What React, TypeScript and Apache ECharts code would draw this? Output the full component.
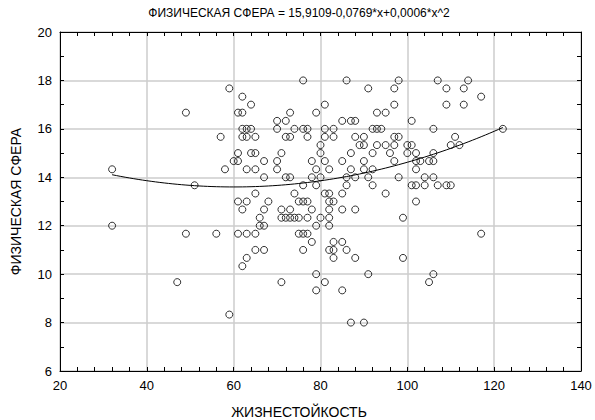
import React, { useEffect, useRef } from "react";
import * as echarts from "echarts";

// Observations: [ЖИЗНЕСТОЙКОСТЬ, ФИЗИЧЕСКАЯ СФЕРА]
const leftPoints: number[][] = [
  [32, 14.33], [32, 12], [47, 9.67], [49, 16.67], [49, 11.67], [51, 13.67],
  [56, 11.67], [57, 15.67], [59, 17.67], [59, 8.33],
];

const upperPoints: number[][] = [
  [76, 18], [86, 18], [98, 18], [107, 18], [114, 18],
  [91, 17.67], [97, 17.67], [109, 17.67], [113, 17.67],
  [62, 17.33], [117, 17.33],
  [64, 17], [81, 17], [97, 17], [109, 17], [113, 17],
  [61, 16.67], [62, 16.67], [73, 16.67], [79, 16.67], [93, 16.67], [95, 16.67],
  [70, 16.33], [72, 16.33], [85, 16.33], [87, 16.33], [88, 16.33], [101, 16.33],
  [62, 16], [63, 16], [64, 16], [70, 16], [74, 16], [76, 16], [77, 16], [81, 16],
  [83, 16], [92, 16], [93, 16], [94, 16], [106, 16], [122, 16],
  [62, 15.67], [63, 15.67], [65, 15.67], [72, 15.67], [73, 15.67], [77, 15.67],
  [81, 15.67], [83, 15.67], [88, 15.67], [90, 15.67], [97, 15.67], [98, 15.67],
  [111, 15.67],
  [80, 15.33], [89, 15.33], [90, 15.33], [93, 15.33], [95, 15.33], [97, 15.33],
  [100, 15.33], [101, 15.33], [110, 15.33], [112, 15.33],
];

const middlePoints: number[][] = [
  [61, 15], [64, 15], [65, 15], [71, 15], [80, 15], [87, 15], [92, 15], [96, 15],
  [100, 15], [102, 15], [106, 15],
  [60, 14.67], [61, 14.67], [67, 14.67], [70, 14.67], [78, 14.67], [81, 14.67],
  [85, 14.67], [90, 14.67], [97, 14.67], [102, 14.67], [103, 14.67], [105, 14.67],
  [106, 14.67],
  [58, 14.33], [63, 14.33], [65, 14.33], [70, 14.33], [79, 14.33], [82, 14.33],
  [87, 14.33], [90, 14.33], [92, 14.33], [102, 14.33],
  [67, 14], [72, 14], [73, 14], [78, 14], [80, 14], [86, 14], [88, 14], [91, 14],
  [98, 14], [104, 14], [106, 14],
  [76, 13.67], [79, 13.67], [86, 13.67], [92, 13.67], [101, 13.67], [102, 13.67],
  [104, 13.67], [107, 13.67], [109, 13.67], [110, 13.67],
  [65, 13.33], [74, 13.33], [81, 13.33], [82, 13.33], [85, 13.33], [95, 13.33],
  [61, 13], [63, 13], [68, 13], [75, 13], [76, 13], [77, 13], [82, 13], [83, 13],
  [102, 13],
];

const lowerPoints: number[][] = [
  [62, 12.67], [67, 12.67], [71, 12.67], [73, 12.67], [78, 12.67], [82, 12.67],
  [85, 12.67], [88, 12.67],
  [66, 12.33], [71, 12.33], [72, 12.33], [73, 12.33], [74, 12.33], [75, 12.33],
  [77, 12.33], [80, 12.33], [82, 12.33], [99, 12.33],
  [66, 12], [67, 12], [79, 12], [82, 12],
  [61, 11.67], [63, 11.67], [65, 11.67], [75, 11.67], [76, 11.67], [77, 11.67],
  [117, 11.67],
  [78, 11.33], [83, 11.33], [85, 11.33],
  [65, 11], [67, 11], [76, 11], [82, 11], [83, 11], [86, 11],
  [63, 10.67], [83, 10.67], [88, 10.67], [99, 10.67],
  [62, 10.33],
  [79, 10], [91, 10], [106, 10],
  [71, 9.67], [81, 9.67], [105, 9.67],
  [79, 9.33], [85, 9.33],
  [87, 8], [90, 8],
];

// Quadratic fit coefficients
const B0 = 15.9109;
const B1 = -0.0769;
const B2 = 0.00064;

const X_TICKS = [20, 40, 60, 80, 100, 120, 140];
const Y_TICKS = [6, 8, 10, 12, 14, 16, 18, 20];

const X_NAME = "ЖИЗНЕСТОЙКОСТЬ";
const Y_NAME = "ФИЗИЧЕСКАЯ СФЕРА";

const fmt = (v: number) => v.toFixed(4).replace(".", ",");

export default function App() {
  const ref = useRef<HTMLDivElement>(null);

  useEffect(() => {
    document.body.style.margin = "0";
    if (!ref.current) return;
    const chart = echarts.init(ref.current, undefined, { renderer: "svg" });

    const points = [...leftPoints, ...upperPoints, ...middlePoints, ...lowerPoints];
    const xs = points.map((p) => p[0]);
    const xMin = Math.min(...xs);
    const xMax = Math.max(...xs);
    const fit: number[][] = [];
    for (let x = xMin; x <= xMax; x += 1) {
      fit.push([x, B0 + B1 * x + B2 * x * x]);
    }

    const title = `${Y_NAME} = ${fmt(B0)}-${fmt(Math.abs(B1))}*x+${fmt(B2)}*x^2`;
    const font = "'Liberation Sans', Arial, sans-serif";
    const axisCommon = {
      axisLine: { show: true, lineStyle: { color: "#000", width: 1 } },
      axisTick: { show: true, inside: true, length: 4, lineStyle: { color: "#000" } },
      minorTick: { show: true, length: 4, lineStyle: { color: "#000" } },
    };

    chart.setOption({
      animation: false,
      textStyle: { fontFamily: font },
      grid: { left: 60, right: 14, top: 32, bottom: 49, containLabel: false },
      graphic: [
        {
          type: "text",
          x: 299,
          y: 13,
          style: {
            text: title,
            fill: "#000",
            font: `12px ${font}`,
            textAlign: "center",
            textVerticalAlign: "middle",
          },
        },
        {
          type: "text",
          x: 299,
          y: 412,
          style: {
            text: X_NAME,
            fill: "#000",
            font: `14px ${font}`,
            textAlign: "center",
            textVerticalAlign: "middle",
          },
        },
      ],
      xAxis: [
        {
          type: "value",
          min: X_TICKS[0],
          max: X_TICKS[X_TICKS.length - 1],
          interval: 20,
          position: "bottom",
          ...axisCommon,
          minorTick: { ...axisCommon.minorTick, splitNumber: 5 },
          axisLabel: { color: "#000", fontSize: 13, margin: 8, fontFamily: font },
          splitLine: { show: true, lineStyle: { color: "#cccccc", width: 1.5 } },
        },
        {
          type: "value",
          min: X_TICKS[0],
          max: X_TICKS[X_TICKS.length - 1],
          interval: 20,
          position: "top",
          ...axisCommon,
          minorTick: { ...axisCommon.minorTick, splitNumber: 5 },
          axisLabel: { show: false },
          splitLine: { show: false },
        },
      ],
      yAxis: [
        {
          type: "value",
          min: Y_TICKS[0],
          max: Y_TICKS[Y_TICKS.length - 1],
          interval: 2,
          position: "left",
          name: Y_NAME,
          nameLocation: "middle",
          nameGap: 37,
          nameTextStyle: { fontSize: 14, color: "#000", fontFamily: font },
          ...axisCommon,
          minorTick: { ...axisCommon.minorTick, splitNumber: 2 },
          axisLabel: { color: "#000", fontSize: 13, margin: 8, fontFamily: font },
          splitLine: { show: true, lineStyle: { color: "#cccccc", width: 1.5 } },
        },
        {
          type: "value",
          min: Y_TICKS[0],
          max: Y_TICKS[Y_TICKS.length - 1],
          interval: 2,
          position: "right",
          ...axisCommon,
          minorTick: { ...axisCommon.minorTick, splitNumber: 2 },
          axisLabel: { show: false },
          splitLine: { show: false },
        },
      ],
      series: [
        {
          type: "scatter",
          data: points,
          symbol: "circle",
          symbolSize: 7,
          itemStyle: { color: "rgba(0,0,0,0)", borderColor: "#000", borderWidth: 1 },
          z: 3,
        },
        {
          type: "line",
          data: fit,
          showSymbol: false,
          smooth: false,
          lineStyle: { color: "#000", width: 1 },
          z: 2,
        },
      ],
    });

    return () => chart.dispose();
  }, []);

  return <div ref={ref} style={{ width: 595, height: 420 }} />;
}
